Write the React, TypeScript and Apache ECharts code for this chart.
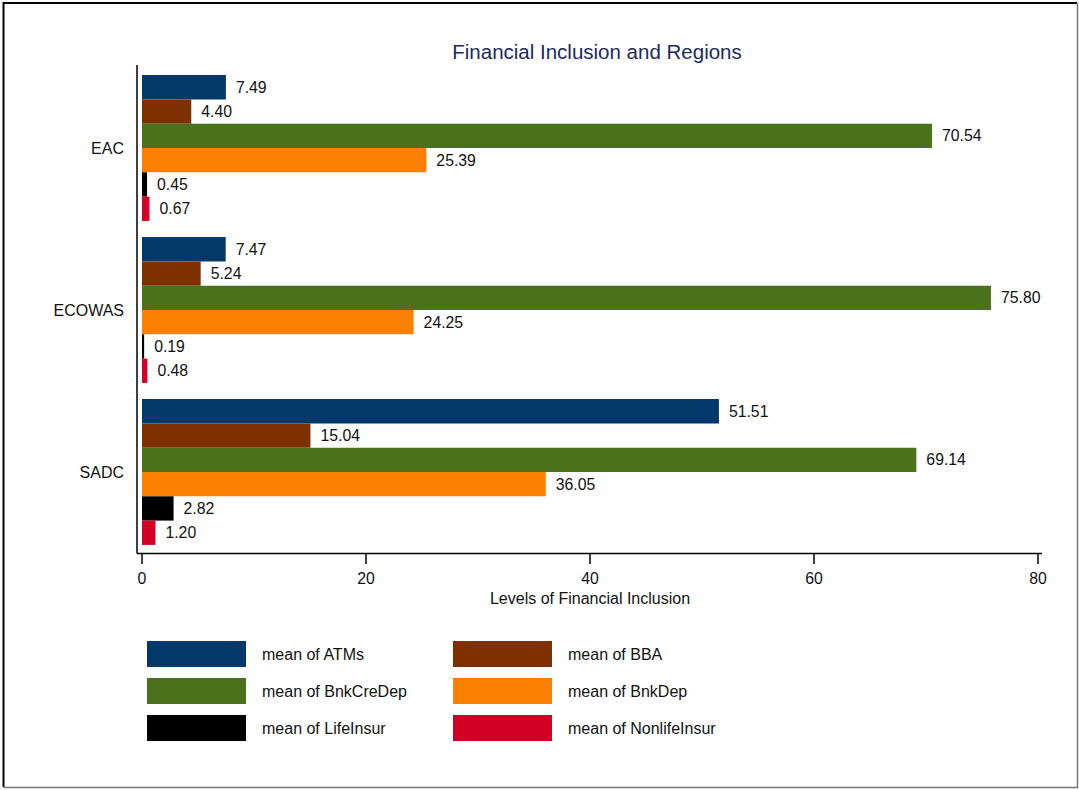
import React, { useEffect, useRef } from "react";
import * as echarts from "echarts";

const regions = ["EAC", "ECOWAS", "SADC"];
const seriesNames = [
  "mean of ATMs",
  "mean of BBA",
  "mean of BnkCreDep",
  "mean of BnkDep",
  "mean of LifeInsur",
  "mean of NonlifeInsur",
];
const atms = [7.49, 7.47, 51.51];
const bba = [4.4, 5.24, 15.04];
const bnkCreDep = [70.54, 75.8, 69.14];
const bnkDep = [25.39, 24.25, 36.05];
const lifeInsur = [0.45, 0.19, 2.82];
const nonlifeInsur = [0.67, 0.48, 1.2];
const xTicks = [0, 20, 40, 60, 80];
const colors = ["#02386a", "#7f3000", "#4a711c", "#fb7f00", "#000000", "#d10024"];

const FONT = "Liberation Sans, Arial, Helvetica, sans-serif";

export default function App() {
  const ref = useRef<HTMLDivElement>(null);
  useEffect(() => {
    document.body.style.margin = "0";
    if (!ref.current) return;
    const chart = echarts.init(ref.current, null, { renderer: "svg" });
    const values = [atms, bba, bnkCreDep, bnkDep, lifeInsur, nonlifeInsur];
    const series = values.map((v, i) => ({
      name: seriesNames[i],
      type: "bar",
      data: v,
      barGap: "0%",
      barCategoryGap: "10%",
      itemStyle: { color: colors[i] },
      label: {
        show: true,
        position: "right",
        distance: 10,
        formatter: (p: any) => Number(p.value).toFixed(2),
        color: "#111",
        fontSize: 15.8,
        fontFamily: FONT,
      },
    }));
    chart.setOption({
      animation: false,
      backgroundColor: "#ffffff",
      title: {
        text: "Financial Inclusion and Regions",
        left: 592,
        top: 36,
        textAlign: "center",
        textStyle: { color: "#1c2a5c", fontSize: 20.5, fontWeight: "normal", fontFamily: FONT },
      },
      grid: { left: 142, right: 41, top: 67, bottom: 237 },
      xAxis: {
        type: "value",
        min: xTicks[0],
        max: xTicks[xTicks.length - 1],
        interval: 20,
        axisLine: { show: false },
        axisTick: { show: true, length: 11, lineStyle: { color: "#000", width: 1.5 } },
        splitLine: { show: false },
        axisLabel: { color: "#111", fontSize: 15.8, fontFamily: FONT, margin: 17 },
        name: "Levels of Financial Inclusion",
        nameLocation: "middle",
        nameGap: 32,
        nameTextStyle: { color: "#111", fontSize: 16, fontFamily: FONT },
      },
      yAxis: {
        type: "category",
        data: regions,
        inverse: true,
        axisLine: { show: false },
        axisTick: { show: false },
        axisLabel: { color: "#111", fontSize: 16, fontFamily: FONT, margin: 18 },
      },
      legend: [
        {
          orient: "vertical",
          left: 147,
          top: 641,
          padding: 0,
          icon: "rect",
          itemWidth: 99,
          itemHeight: 26,
          itemGap: 11,
          selectedMode: false,
          data: [seriesNames[0], seriesNames[2], seriesNames[4]],
          textStyle: { color: "#111", fontSize: 16, fontFamily: FONT, padding: [0, 0, 0, 11] },
        },
        {
          orient: "vertical",
          left: 453,
          top: 641,
          padding: 0,
          icon: "rect",
          itemWidth: 99,
          itemHeight: 26,
          itemGap: 11,
          selectedMode: false,
          data: [seriesNames[1], seriesNames[3], seriesNames[5]],
          textStyle: { color: "#111", fontSize: 16, fontFamily: FONT, padding: [0, 0, 0, 11] },
        },
      ],
      graphic: [
        { type: "line", shape: { x1: 137, y1: 65, x2: 137, y2: 553.5 }, style: { stroke: "#000", lineWidth: 1.5 } },
        { type: "line", shape: { x1: 137, y1: 553.5, x2: 1042, y2: 553.5 }, style: { stroke: "#000", lineWidth: 1.5 } },
        { type: "polyline", shape: { points: [[3.5, 787], [3.5, 3], [1077, 3]] }, style: { stroke: "#000", lineWidth: 2, fill: null } },
        { type: "polyline", shape: { points: [[1077.5, 3], [1077.5, 787.5], [3.5, 787.5]] }, style: { stroke: "#777", lineWidth: 1.5, fill: null } },
      ],
      series,
    });
    return () => chart.dispose();
  }, []);
  return (
    <div
      ref={ref}
      style={{ position: "absolute", left: 0, top: 0, width: 1079, height: 790 }}
    />
  );
}
